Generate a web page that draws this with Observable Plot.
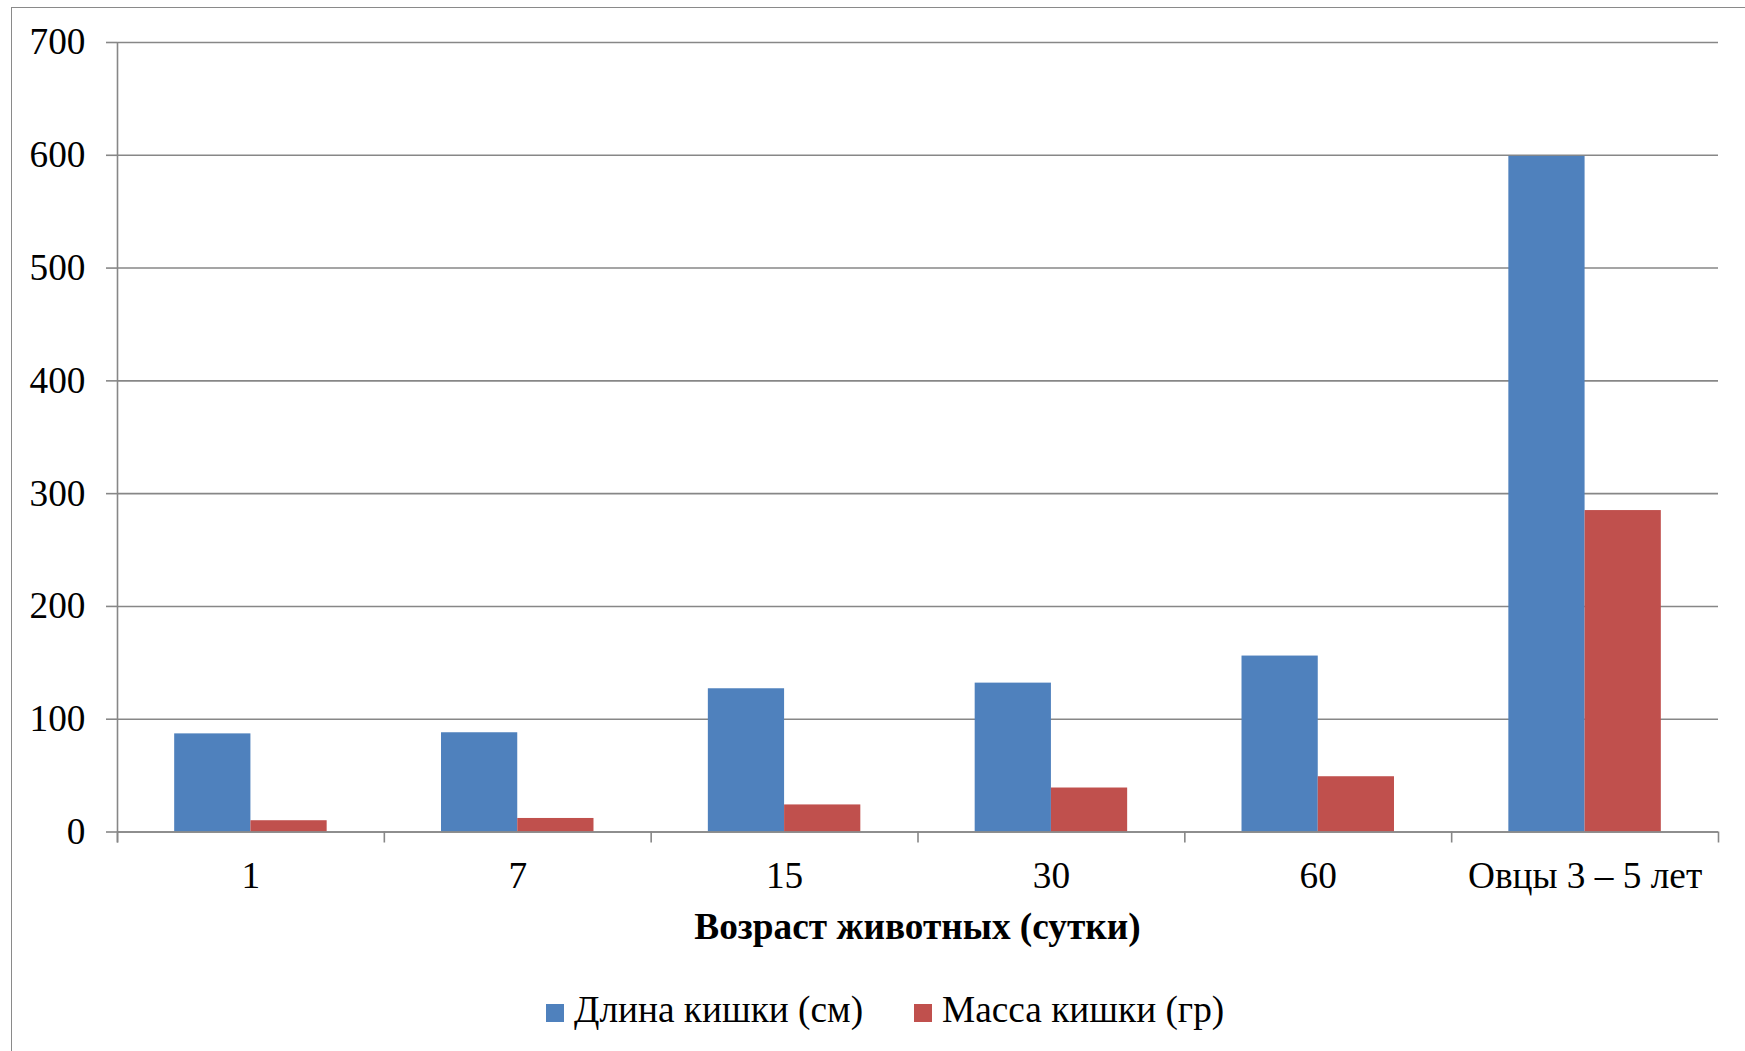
<!DOCTYPE html>
<html>
<head>
<meta charset="utf-8">
<script src="https://cdn.jsdelivr.net/npm/d3@7"></script>
<script src="https://cdn.jsdelivr.net/npm/@observablehq/plot@0.6"></script>
<style>
  body { margin: 0; background: #fff; font-family: "Liberation Serif", "Times New Roman", serif; }
  #wrap { position: relative; width: 1745px; height: 1051px; overflow: hidden; background: #fff; }
  #border { position: absolute; left: 11px; top: 7px; width: 1800px; height: 1100px;
            border-left: 1.5px solid #8a8a8a; border-top: 1.5px solid #8a8a8a; }
  #chart { position: absolute; left: 0; top: 0; }
  #xtitle { position: absolute; left: 117px; width: 1601px; top: 908px; text-align: center;
            font-weight: bold; font-size: 37.3px; line-height: 37px; color: #000; }
  #legend { position: absolute; left: 546px; top: 991px; display: flex; align-items: flex-start;
            font-size: 37.3px; line-height: 37px; color: #000; }
  .item { display: flex; align-items: flex-start; margin-right: 51px; }
  .sw { width: 18px; height: 18px; margin-top: 13px; margin-right: 10px; }
</style>
</head>
<body>
<div id="wrap">
  <div id="border"></div>
  <div id="chart"></div>
  <div id="xtitle"></div>
  <div id="legend"></div>
</div>
<script>
// ---- data ----
const categories = ["1", "7", "15", "30", "60", "Овцы 3 – 5 лет"];
const lengthCm = [87, 88, 127, 132, 156, 599];
const massGr = [10, 12, 24, 39, 49, 285];
const seriesNames = ["Длина кишки (см)", "Масса кишки (гр)"];
const seriesColors = ["#4F81BD", "#C0504D"];
const yTicks = [0, 100, 200, 300, 400, 500, 600, 700];
const xTitle = "Возраст животных (сутки)";

// ---- layout ----
const W = 1745, H = 900;
const mL = 117, mR = 27, mT = 42, mB = 68.5;
const plotH = H - mT - mB;
const bw = (W - mL - mR) / categories.length;
const gap = 0.75;                       // gap width between groups (fraction of a bar pair)
const barW = bw / (1 + gap) / 2;
const off = (bw - 2 * barW) / 2;
const grid = "#878787";

const rows = categories.map((c, i) => ({cat: c, len: lengthCm[i], mass: massGr[i]}));

const chart = Plot.plot({
  width: W, height: H,
  marginLeft: mL, marginRight: mR, marginTop: mT, marginBottom: mB,
  style: {fontFamily: "'Liberation Serif', 'Times New Roman', serif", fontSize: "37.3px", color: "#000", background: "transparent"},
  x: {domain: categories, padding: 0, round: false, label: null},
  y: {domain: [0, 700], label: null},
  marks: [
    Plot.ruleY(yTicks, {stroke: grid, strokeWidth: 1.6}),
    Plot.barY(rows, {x: "cat", y: "len", fill: seriesColors[0], insetLeft: off, insetRight: bw - off - barW}),
    Plot.barY(rows, {x: "cat", y: "mass", fill: seriesColors[1], insetLeft: off + barW, insetRight: off}),
    Plot.ruleY([0], {stroke: grid, strokeWidth: 1.6}),
    Plot.ruleX([categories[0]], {dx: -bw / 2, insetBottom: -11, stroke: grid, strokeWidth: 1.6}),
    Plot.ruleX(categories, {dx: -bw / 2, insetTop: plotH, insetBottom: -11, stroke: grid, strokeWidth: 1.6}),
    Plot.ruleX([categories[categories.length - 1]], {dx: bw / 2, insetTop: plotH, insetBottom: -11, stroke: grid, strokeWidth: 1.6}),
    Plot.axisY({ticks: yTicks, tickSize: 11, tickPadding: 21, stroke: grid, strokeWidth: 1.6, strokeOpacity: 1, label: null, fill: "#000"}),
    Plot.axisX({tickSize: 0, tickPadding: 30, label: null, fill: "#000"})
  ]
});
document.getElementById("chart").appendChild(chart);

document.getElementById("xtitle").textContent = xTitle;
const legend = document.getElementById("legend");
seriesNames.forEach((name, i) => {
  const item = document.createElement("div");
  item.className = "item";
  const sw = document.createElement("div");
  sw.className = "sw";
  sw.style.background = seriesColors[i];
  const t = document.createElement("span");
  t.textContent = name;
  item.appendChild(sw);
  item.appendChild(t);
  legend.appendChild(item);
});
</script>
</body>
</html>
